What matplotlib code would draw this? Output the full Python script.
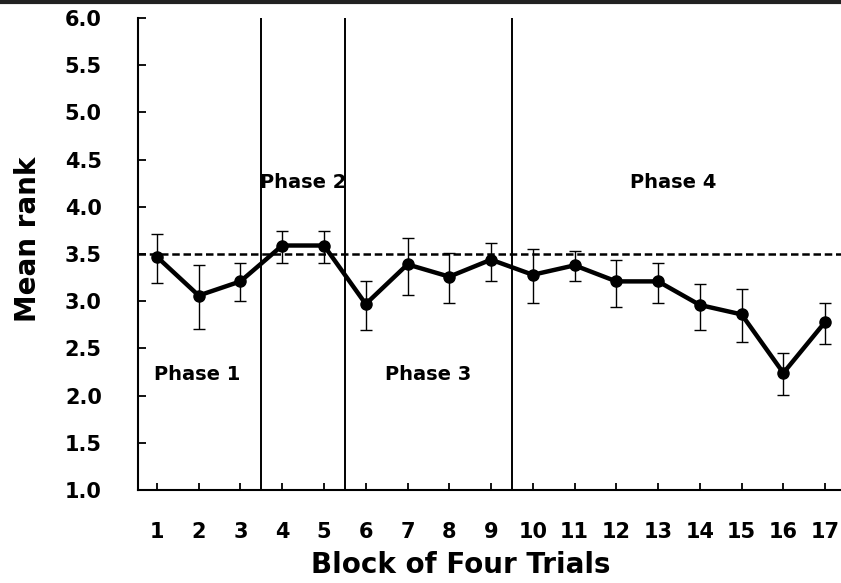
import numpy as np
import matplotlib.pyplot as plt
from matplotlib.lines import Line2D

plt.rcParams['font.family'] = ['DejaVu Sans']
plt.rcParams['font.weight'] = 'bold'

# data
blocks = np.arange(1, 18)
mean_rank = [3.47, 3.06, 3.21, 3.59, 3.59, 2.97, 3.39, 3.26, 3.44,
             3.28, 3.38, 3.21, 3.21, 2.96, 2.86, 2.24, 2.78]
err_low = [3.19, 2.71, 3.00, 3.40, 3.40, 2.70, 3.07, 2.98, 3.21,
           2.98, 3.21, 2.94, 2.98, 2.70, 2.57, 2.01, 2.55]
err_high = [3.71, 3.38, 3.40, 3.74, 3.74, 3.21, 3.67, 3.51, 3.62,
            3.55, 3.53, 3.44, 3.40, 3.18, 3.13, 2.45, 2.98]
phase_bounds = [3.5, 5.5, 9.5]
chance = 3.5
phase_names = ['Phase 1', 'Phase 2', 'Phase 3', 'Phase 4']
phase_x = [1.96, 4.5, 7.49, 13.35]
phase_y = [2.17, 4.2, 2.17, 4.2]

fig = plt.figure(figsize=(8.41, 5.83), dpi=100)
ax = fig.add_axes([0.164, 0.1595, 0.836, 0.8096])

yerr = [np.array(mean_rank) - np.array(err_low), np.array(err_high) - np.array(mean_rank)]
ax.errorbar(blocks, mean_rank, yerr=yerr, fmt='none', ecolor='black',
            elinewidth=1.0, capsize=4, capthick=1.0, zorder=3)
ax.plot(blocks, mean_rank, color='black', lw=3.2, marker='o', ms=8, zorder=4)

ax.axhline(chance, color='black', lw=1.8, ls=(0, (3, 1.5)), zorder=2)
for b in phase_bounds:
    ax.axvline(b, color='black', lw=1.4, zorder=2)

for name, x, y in zip(phase_names, phase_x, phase_y):
    ax.text(x, y, name, ha='center', va='baseline', fontsize=14, fontweight='bold')

ax.set_xlim(0.545, 17.38)
ax.set_ylim(1.0, 6.0)
ax.set_xticks(blocks)
ax.set_yticks(np.arange(1.0, 6.01, 0.5))
ax.set_yticklabels([f'{v:.1f}' for v in np.arange(1.0, 6.01, 0.5)])

for s in ['top', 'right']:
    ax.spines[s].set_visible(False)
for s in ['left', 'bottom']:
    ax.spines[s].set_linewidth(1.5)

ax.tick_params(axis='y', direction='in', length=6, width=1.3, labelsize=15, pad=26)
ax.tick_params(axis='x', direction='in', length=5, width=1.3, labelsize=15, pad=23)
for lab in ax.get_xticklabels() + ax.get_yticklabels():
    lab.set_fontweight('bold')

fig.text(461 / 841, 1 - 573 / 583, 'Block of Four Trials', ha='center', va='baseline',
         fontsize=20, fontweight='bold')
fig.text(28 / 841, 1 - 239 / 583, 'Mean rank', ha='center', va='center', rotation=90,
         fontsize=20, fontweight='bold')

fig.add_artist(Line2D([0, 1], [0.997, 0.997], transform=fig.transFigure,
                      color='#222222', lw=3))

fig.savefig('out.png', dpi=100)
